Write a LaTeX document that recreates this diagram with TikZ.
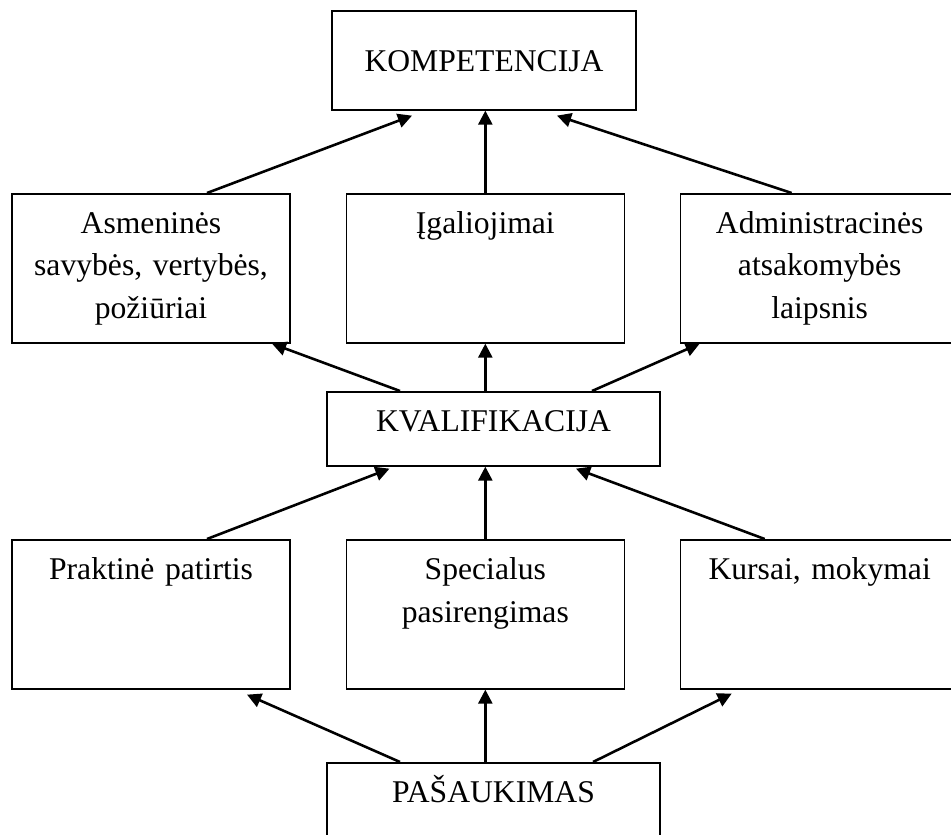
\documentclass[tikz,border=0pt]{standalone}
\usepackage{fontspec}
\setmainfont{Liberation Serif}
\usetikzlibrary{positioning,calc,arrows.meta}

\begin{document}
\begin{tikzpicture}[x=0.015cm, y=0.015cm,
    every node/.style={font=\fontsize{13.5}{18}\selectfont},
    box/.style={draw, line width=0.7pt, anchor=north, align=center, inner xsep=0pt, inner ysep=0pt,
        text width=4.1cm, minimum width=4.17cm, text height=0.6cm, text depth=1.635cm},
    wide/.style={box, minimum width=4.995cm, text depth=0.51cm},
    arr/.style={-{Triangle[length=6pt,width=6pt]}, line width=1.1pt}]
    \useasboundingbox (0,0) rectangle (951,834);

    % Top box
    \node[box, minimum width=4.56cm, text height=0.915cm, text depth=0.57cm] (komp) at (484,824) {KOMPETENCIJA};

    % Second row
    \node[box] (asm) at (151,641) {Asmeninės\\savybės, vertybės,\\požiūriai};
    \node[box, right=0.82cm of asm] (igal) {Įgaliojimai};
    \node[box, right=0.82cm of igal] (adm) {Administracinės\\atsakomybės\\laipsnis};

    % Middle box
    \node[wide] (kval) at (493.5,443) {KVALIFIKACIJA};

    % Fourth row
    \node[box] (prak) at (151,295) {Praktinė patirtis};
    \node[box, right=0.82cm of prak] (spec) {Specialus\\pasirengimas};
    \node[box, right=0.82cm of spec] (kurs) {Kursai, mokymai};

    % Bottom box
    \node[wide] (pas) at (493.5,72) {PAŠAUKIMAS};

    % Arrows to the top box
    \draw[arr] ($(asm.north)+(56,0)$) -- ($(komp.south)+(-72,-5)$);
    \draw[arr] (igal.north) -- (igal.north |- komp.south);
    \draw[arr] ($(adm.north)+(-28,0)$) -- ($(komp.south)+(73,-5)$);

    % Arrows from the middle box
    \draw[arr] ($(kval.north)+(-93.5,0)$) -- ($(asm.south)+(121,0)$);
    \draw[arr] (igal.south |- kval.north) -- (igal.south);
    \draw[arr] ($(kval.north)+(98.5,0)$) -- ($(adm.south)+(-120,0)$);

    % Arrows to the middle box
    \draw[arr] ($(prak.north)+(56,0)$) -- ($(kval.south)+(-104,-2)$);
    \draw[arr] (spec.north) -- (spec.north |- kval.south);
    \draw[arr] ($(kurs.north)+(-55,0)$) -- ($(kval.south)+(82.5,-2)$);

    % Arrows from the bottom box
    \draw[arr] ($(pas.north)+(-93.5,0)$) -- ($(prak.south)+(96,-5)$);
    \draw[arr] (spec.south |- pas.north) -- (spec.south);
    \draw[arr] ($(pas.north)+(99.5,0)$) -- ($(kurs.south)+(-88,-4)$);
\end{tikzpicture}
\end{document}
